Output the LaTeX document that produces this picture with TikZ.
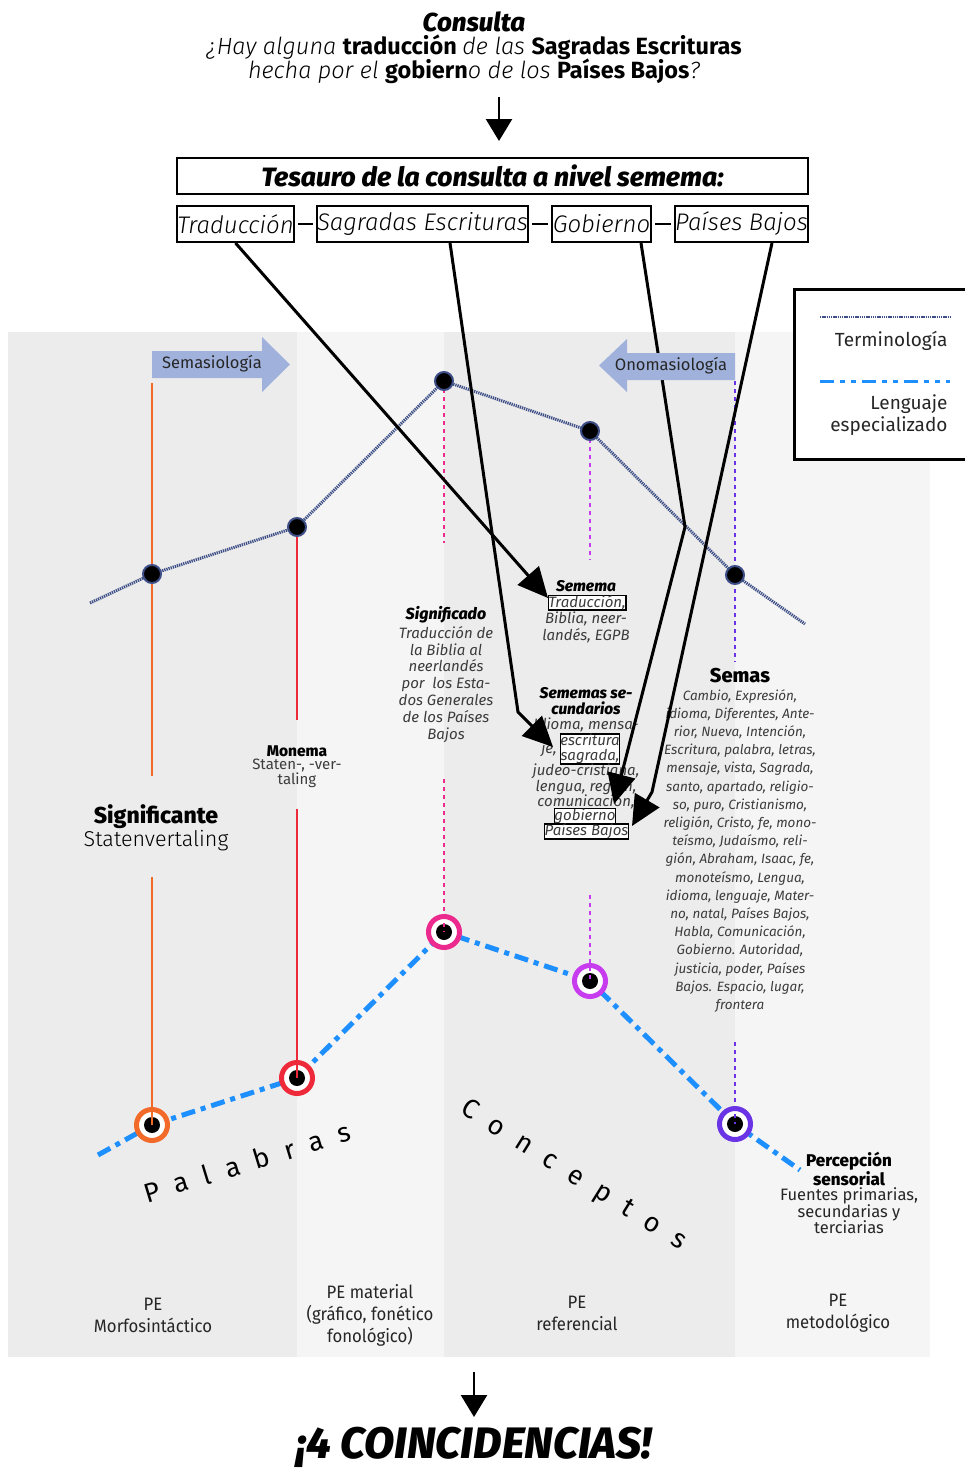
\documentclass[tikz,border=0pt]{standalone}
\usepackage{fontspec}
\setmainfont{Fira Sans}[UprightFont=* Light, ItalicFont=* Light Italic, BoldFont=* Bold, BoldItalicFont=* Bold Italic]
\newfontfamily\regfont{Fira Sans}
\newfontfamily\heavyfont{Fira Sans}[UprightFont=* ExtraBold, ItalicFont=* ExtraBold Italic]
\newfontfamily\condfont{Fira Sans}[FakeStretch=0.93]
\usetikzlibrary{arrows.meta}
\newcommand\fsz[2]{\fontsize{#1}{#2}\selectfont}

\definecolor{bandA}{HTML}{ECECEC}
\definecolor{bandB}{HTML}{F5F5F5}
\definecolor{navy}{HTML}{3E4F87}
\definecolor{espblue}{HTML}{1E8FFF}
\definecolor{cOrange}{HTML}{F26A2A}
\definecolor{cRed}{HTML}{EE2A3A}
\definecolor{cPink}{HTML}{EC2A8E}
\definecolor{cMag}{HTML}{C83CF0}
\definecolor{cViolet}{HTML}{6A34E6}
\definecolor{blockblue}{HTML}{A0B2DC}
\definecolor{txtgray}{HTML}{3C3C3C}

\tikzset{
  termline/.style={draw=navy, line width=3pt, dash pattern=on 1.3pt off 0.9pt},
  espline/.style={draw=espblue, line width=5pt, dash pattern=on 14pt off 6pt on 5pt off 6pt},
  tdot/.style={circle, fill=black, draw=navy, line width=2pt, minimum size=18pt, inner sep=0pt},
  ring/.style={circle, draw=#1, line width=5pt, fill=white, minimum size=31pt, inner sep=0pt},
  cdot/.style={circle, fill=black, minimum size=16pt, inner sep=0pt},
  solidv/.style={draw=#1, line width=1.6pt},
  dashv/.style={draw=#1, line width=1.6pt, dash pattern=on 4pt off 4pt},
  tbox/.style={draw, line width=2pt, inner sep=0pt, minimum height=36pt, font=\fsz{24}{26}\itshape},
  bigarrow/.style={draw, line width=3pt, -{Triangle[length=30pt,width=28pt]}},
  downarrow/.style={draw, line width=2.5pt, -{Triangle[length=22pt,width=26pt]}},
  wbox/.style={draw, line width=1.5pt, fill=white, inner sep=1pt},
  semtxt/.style={text=txtgray, font=\regfont\itshape\fsz{15}{16.5}, inner sep=0pt},
  petxt/.style={align=center, font=\condfont\fsz{18}{22}, text=black!85}
}

\begin{document}
\begin{tikzpicture}[x=1pt,y=-1pt]
\useasboundingbox (0,0) rectangle (964,1480);

% background bands
\fill[bandA] (8,332) rectangle (297,1357);
\fill[bandB] (297,332) rectangle (444,1357);
\fill[bandA] (444,332) rectangle (735,1357);
\fill[bandB] (735,332) rectangle (930,1357);

% query
\node[font=\heavyfont\itshape\fsz{26}{28}] (consulta) at (474,22) {Consulta};
\node[font=\fsz{23.5}{25}] (q1) at (474,47) {\itshape ¿Hay alguna \bfseries\upshape traducción \mdseries\itshape de las \bfseries\upshape Sagradas Escrituras};
\node[font=\fsz{23.5}{25}] (q2) at (474,71) {\itshape hecha por el \bfseries\upshape gobiern\mdseries\itshape o de los \bfseries\upshape Países Bajos\mdseries\itshape ?};
\coordinate (qa0) at (499,97);
\coordinate (qa1) at (499,141);
\draw[downarrow] (qa0) -- (qa1);

% thesaurus boxes
\node[draw, line width=2pt, minimum width=631pt, minimum height=36pt, inner sep=0pt, font=\heavyfont\itshape\fsz{26.5}{28}] (tes) at (492.5,176) {Tesauro de la consulta a nivel semema:};
\node[tbox, minimum width=117pt] (tTrad) at (235.5,224) {Traducción};
\node[tbox, minimum width=211pt] (tSag) at (422.5,224) {Sagradas Escrituras};
\node[tbox, minimum width=99pt] (tGob) at (601.5,224) {Gobierno};
\node[tbox, minimum width=133pt] (tPai) at (741.5,224) {Países Bajos};
\draw[line width=1.5pt] ([xshift=3pt]tTrad.east) -- ([xshift=-3pt]tSag.west);
\draw[line width=1.5pt] ([xshift=3pt]tSag.east) -- ([xshift=-3pt]tGob.west);
\draw[line width=1.5pt] ([xshift=3pt]tGob.east) -- ([xshift=-3pt]tPai.west);

% graph points
\coordinate (t0) at (90,603);
\coordinate (t1) at (152,574);
\coordinate (t2) at (297,527);
\coordinate (t3) at (444,381);
\coordinate (t4) at (590,431);
\coordinate (t5) at (735,575);
\coordinate (t6) at (805,624);
\coordinate (e0) at (98,1155);
\coordinate (e1) at (152,1125);
\coordinate (e2) at (297,1078);
\coordinate (e3) at (444,932);
\coordinate (e4) at (590,981);
\coordinate (e5) at (735,1124);
\coordinate (e6) at (800,1170);

% vertical guides
\coordinate (v1a) at (152,383);  \coordinate (v1b) at (152,776);
\coordinate (v1c) at (152,877);
\coordinate (v2b) at (297,720);  \coordinate (v2c) at (297,809);
\coordinate (v3b) at (444,543);  \coordinate (v3c) at (444,779);
\coordinate (v4b) at (590,560);  \coordinate (v4c) at (590,895);
\coordinate (v5a) at (735,381);  \coordinate (v5b) at (735,662);
\coordinate (v5c) at (735,1042);
\draw[solidv=cOrange] (v1a) -- (v1b);
\draw[solidv=cRed] (t2) -- (v2b);
\draw[dashv=cPink] (t3) -- (v3b);
\draw[dashv=cMag] (t4) -- (v4b);
\draw[dashv=cViolet] (v5a) -- (v5b);

% terminology line
\draw[termline] (t0) -- (t1) -- (t2) -- (t3) -- (t4) -- (t5) -- (t6);
\foreach \i in {1,...,5} { \node[tdot] (td\i) at (t\i) {}; }

% specialised language line
\draw[espline] (e0) -- (e1) -- (e2) -- (e3) -- (e4) -- (e5) -- (e6);
\node[ring=cOrange] (r1) at (e1) {};
\node[ring=cRed] (r2) at (e2) {};
\node[ring=cPink] (r3) at (e3) {};
\node[ring=cMag] (r4) at (e4) {};
\node[ring=cViolet] (r5) at (e5) {};
\foreach \i in {1,...,5} { \node[cdot] (rd\i) at (r\i) {}; }
\draw[solidv=cOrange] (v1c) -- (rd1.center);
\draw[solidv=cRed] (v2c) -- (rd2.center);
\draw[dashv=cPink] (v3c) -- (rd3.center);
\draw[dashv=cMag] (v4c) -- (rd4.center);
\draw[dashv=cViolet] (v5c) -- (rd5.center);

% level labels
\node[font=\heavyfont\fsz{23}{25}] (signif) at (156,817) {Significante};
\node[font=\fsz{21.5}{23}] (staten) at (156,841) {Statenvertaling};
\node[font=\heavyfont\fsz{15.5}{16}] (monema) at (297,751) {Monema};
\node[font=\regfont\fsz{15}{14}, align=center, text=txtgray] (monemaT) at (297,773) {Staten-, -ver-\\taling};

\node[font=\heavyfont\itshape\fsz{16}{18}] (sigdo) at (446,615) {Significado};
\node[semtxt, font=\regfont\itshape\fsz{15}{16.8}, align=center, anchor=north] (sigdoT) at (446,626)
  {Traducción de\\la Biblia al\\neerlandés\\por~ los Esta-\\dos Generales\\de los Países\\Bajos};

\node[font=\heavyfont\itshape\fsz{15.5}{16}] (semema) at (586,586) {Semema};
\node[wbox, semtxt] (sememaBox) at (587,602.5) {Traducción,};
\node[semtxt, align=center, anchor=north] (sememaT) at (586,612) {Biblia, neer-\\landés, EGPB};

\node[font=\heavyfont\itshape\fsz{15.5}{16}, align=center] (secT) at (586,701) {Sememas se-\\cundarios};
\node[semtxt] (sec1) at (586,725) {Idioma, mensa-};
\node[wbox, semtxt, align=center, font=\regfont\itshape\fsz{15}{15}] (secBox1) at (590,749) {escritura\\sagrada,};
\node[semtxt, anchor=east] (secJe) at (secBox1.west) {je,\,};
\node[semtxt] (sec4) at (586,771) {judeo-cristiana,};
\node[semtxt] (sec5) at (586,787) {lengua, región,};
\node[semtxt] (sec6) at (586,802) {comunicación,};
\node[wbox, semtxt] (secBox2) at (585,816) {gobierno};
\node[wbox, semtxt] (secBox3) at (586.5,831.5) {Países Bajos};

\node[font=\heavyfont\fsz{20}{22}] (semas) at (740,676) {Semas};
\node[semtxt, font=\regfont\itshape\fsz{13.5}{18.2}, align=center, anchor=north] (semasT) at (740,689)
  {Cambio, Expresión,\\idioma, Diferentes, Ante-\\rior, Nueva, Intención,\\Escritura, palabra, letras,\\mensaje, vista, Sagrada,\\santo, apartado, religio-\\so, puro, Cristianismo,\\religión, Cristo, fe, mono-\\teísmo, Judaísmo, reli-\\gión, Abraham, Isaac, fe,\\monoteísmo, Lengua,\\idioma, lenguaje, Mater-\\no, natal, Países Bajos,\\Habla, Comunicación,\\Gobierno. Autoridad,\\justicia, poder, Países\\Bajos. Espacio, lugar,\\frontera};

\node[font=\heavyfont\fsz{17}{16.5}, align=center] (percep) at (849,1169) {Percepción\\sensorial};
\node[font=\regfont\fsz{16.5}{16.5}, align=center, text=black!85] (fuentes) at (849,1211) {Fuentes primarias,\\secundarias y\\terciarias};

% rotated captions
\node[font=\regfont\fsz{27}{28}, rotate=17] (palabras) at (247,1162)
  {P\hspace{15.5pt}a\hspace{15.5pt}l\hspace{15.5pt}a\hspace{15.5pt}b\hspace{15.5pt}r\hspace{15.5pt}a\hspace{15.5pt}s};
\node[font=\regfont\fsz{27}{28}, rotate=-32] (conceptos) at (573,1176)
  {C\hspace{16.5pt}o\hspace{16.5pt}n\hspace{16.5pt}c\hspace{16.5pt}e\hspace{16.5pt}p\hspace{16.5pt}t\hspace{16.5pt}o\hspace{16.5pt}s};

% bottom labels
\node[petxt] (pe1) at (153,1315) {PE\\Morfosintáctico};
\node[petxt] (pe2) at (370,1315) {PE material\\(gráfico, fonético\\fonológico)};
\node[petxt] (pe3) at (577,1313) {PE\\referencial};
\node[petxt] (pe4) at (838,1313) {PE\\metodológico};

% thesaurus arrows
\coordinate (k2) at (518,712);
\coordinate (k3) at (685,527);
\coordinate (k4) at (652,792);
\coordinate (h1) at (548,598);
\coordinate (h2) at (553,747);
\coordinate (h3) at (614,804);
\coordinate (h4) at (632,826);
\draw[bigarrow] (tTrad.south) -- (h1);
\draw[bigarrow] ([xshift=27.5pt]tSag.south) -- (k2) -- (h2);
\draw[bigarrow] ([xshift=39.5pt]tGob.south) -- (k3) -- (h3);
\draw[bigarrow] ([xshift=30.5pt]tPai.south) -- (k4) -- (h4);

% direction arrows, above the thesaurus lines
\fill[blockblue] (152,351) -- (262,351) -- (262,337) -- (290,364.5) -- (262,392) -- (262,378) -- (152,378) -- cycle;
\node[font=\regfont\fsz{16.5}{18}, text=black!85] (sema) at (212,364) {Semasiología};
\fill[blockblue] (735,353) -- (627,353) -- (627,339) -- (599,365.5) -- (627,392) -- (627,380) -- (735,380) -- cycle;
\node[font=\regfont\fsz{16.5}{18}, text=black!85] (onoma) at (671,366) {Onomasiología};

% legend
\node[draw, line width=3pt, fill=white, minimum width=176pt, minimum height=170pt, anchor=north west] (legend) at (793,288) {};
\coordinate (l1a) at (820,317); \coordinate (l1b) at (950,317);
\coordinate (l2a) at (820,381); \coordinate (l2b) at (950,381);
\draw[termline, line width=2.5pt] (l1a) -- (l1b);
\draw[draw=espblue, line width=3pt, dash pattern=on 14pt off 6pt on 5pt off 6pt on 5pt off 6pt] (l2a) -- (l2b);
\node[font=\regfont\fsz{19}{21}, anchor=east, text=black!85] (lterm) at (951,341) {Terminología};
\node[font=\regfont\fsz{19}{22}, anchor=east, align=right, text=black!85] (lesp) at (951,415) {Lenguaje\\especializado};

% result
\coordinate (ra0) at (474,1372);
\coordinate (ra1) at (474,1417);
\draw[downarrow] (ra0) -- (ra1);
\node[font=\heavyfont\itshape\fsz{44}{46}] (result) at (474,1447) {¡4 COINCIDENCIAS!};
\end{tikzpicture}
\end{document}
